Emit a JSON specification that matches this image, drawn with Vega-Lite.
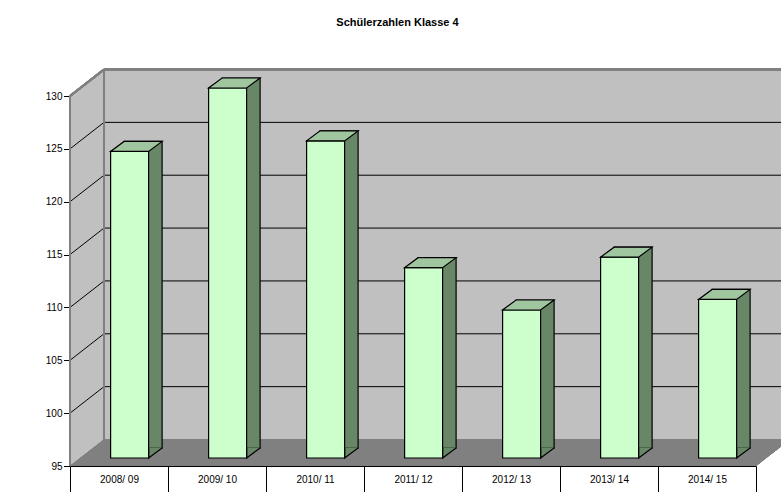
{
  "$schema": "https://vega.github.io/schema/vega-lite/v6.json",
  "width": 711,
  "height": 396,
  "autosize": {"type": "none"},
  "padding": {"left": 70, "top": 70, "right": 0, "bottom": 26},
  "background": "white",
  "title": {"text": "Schülerzahlen Klasse 4", "anchor": "middle", "frame": "group", "offset": 32, "dx": -28, "baseline": "alphabetic", "font": "Liberation Sans", "fontSize": 11, "fontWeight": "bold", "color": "black"},
  "config": {
    "view": {"stroke": null},
    "axis": {"grid": false, "title": null},
    "axisX": {"domain": true, "domainColor": "black", "domainWidth": 1, "ticks": true, "tickBand": "extent", "tickSize": 26, "tickColor": "black", "tickWidth": 1, "labelFontSize": 10, "labelFont": "Liberation Sans", "labelColor": "black", "labelBaseline": "middle", "labelPadding": -13, "labelAngle": 0, "zindex": 1},
    "axisY": {"domain": false, "ticks": true, "tickSize": 6.5, "tickColor": "black", "tickWidth": 1, "labelPadding": 1.5, "labelFontSize": 10, "labelFont": "Liberation Sans", "labelColor": "black", "zindex": 1}
  },
  "datasets": {
    "bars": [
      {"Schuljahr": "2008/ 09", "Schueler": 124},
      {"Schuljahr": "2009/ 10", "Schueler": 130},
      {"Schuljahr": "2010/ 11", "Schueler": 125},
      {"Schuljahr": "2011/ 12", "Schueler": 113},
      {"Schuljahr": "2012/ 13", "Schueler": 109},
      {"Schuljahr": "2013/ 14", "Schueler": 114},
      {"Schuljahr": "2014/ 15", "Schueler": 110}
    ],
    "grid": [{"g": 100}, {"g": 105}, {"g": 110}, {"g": 115}, {"g": 120}, {"g": 125}]
  },
  "data": {"name": "bars"},
  "encoding": {
    "x": {"field": "Schuljahr", "type": "nominal", "title": null, "sort": null,
      "scale": {"type": "band", "domain": ["2008/ 09", "2009/ 10", "2010/ 11", "2011/ 12", "2012/ 13", "2013/ 14", "2014/ 15"], "range": [0, 686], "paddingInner": 0, "paddingOuter": 0}},
    "y": {"field": "Schueler", "type": "quantitative", "title": null,
      "scale": {"domain": [95, 132.46], "nice": false, "zero": false},
      "axis": {"values": [95, 100, 105, 110, 115, 120, 125, 130]}}
  },
  "layer": [
    {
      "mark": {"type": "rect", "fill": "#c0c0c0", "xOffset": 34, "x2Offset": 34, "yOffset": -26.5, "y2Offset": -26.5},
      "encoding": {
        "x": {"datum": "2008/ 09", "type": "nominal", "bandPosition": 0},
        "x2": {"datum": "2014/ 15", "bandPosition": 1},
        "y": {"datum": 95, "type": "quantitative"},
        "y2": {"datum": 130}
      }
    },
    {
      "mark": {"type": "point", "shape": "M0 0 L0 -370 L34 -396.5 L34 -26.5 Z", "size": 4, "filled": true, "fill": "#c0c0c0", "strokeWidth": 0, "opacity": 1},
      "encoding": {
        "x": {"datum": "2008/ 09", "type": "nominal", "bandPosition": 0},
        "y": {"datum": 95, "type": "quantitative"}
      }
    },
    {
      "mark": {"type": "point", "shape": "M0 0 L686 0 L720 -26.5 L34 -26.5 Z", "size": 4, "filled": true, "fill": "#808080", "strokeWidth": 0, "opacity": 1},
      "encoding": {
        "x": {"datum": "2008/ 09", "type": "nominal", "bandPosition": 0},
        "y": {"datum": 95, "type": "quantitative"}
      }
    },
    {
      "data": {"name": "grid"},
      "mark": {"type": "rule", "color": "black", "strokeWidth": 1, "xOffset": 34, "x2Offset": 34, "yOffset": -26.5},
      "encoding": {
        "x": {"datum": "2008/ 09", "type": "nominal", "bandPosition": 0},
        "x2": {"datum": "2014/ 15", "bandPosition": 1},
        "y": {"field": "g", "type": "quantitative", "title": null}
      }
    },
    {
      "data": {"name": "grid"},
      "mark": {"type": "rule", "color": "black", "strokeWidth": 1, "x2Offset": 34, "y2Offset": -26.5},
      "encoding": {
        "x": {"datum": "2008/ 09", "type": "nominal", "bandPosition": 0},
        "x2": {"datum": "2008/ 09", "bandPosition": 0},
        "y": {"field": "g", "type": "quantitative", "title": null},
        "y2": {"field": "g"}
      }
    },
    {
      "mark": {"type": "rule", "color": "#808080", "strokeWidth": 2, "xOffset": 34, "x2Offset": 34, "yOffset": -26.5},
      "encoding": {
        "x": {"datum": "2008/ 09", "type": "nominal", "bandPosition": 0},
        "x2": {"datum": "2014/ 15", "bandPosition": 1},
        "y": {"datum": 130, "type": "quantitative"}
      }
    },
    {
      "mark": {"type": "rule", "color": "#808080", "strokeWidth": 2, "x2Offset": 34, "y2Offset": -26.5},
      "encoding": {
        "x": {"datum": "2008/ 09", "type": "nominal", "bandPosition": 0},
        "x2": {"datum": "2008/ 09", "bandPosition": 0},
        "y": {"datum": 130, "type": "quantitative"},
        "y2": {"datum": 130}
      }
    },
    {
      "mark": {"type": "rule", "color": "#808080", "strokeWidth": 2, "xOffset": 34, "yOffset": -26.5, "y2Offset": -26.5},
      "encoding": {
        "x": {"datum": "2008/ 09", "type": "nominal", "bandPosition": 0},
        "y": {"datum": 95, "type": "quantitative"},
        "y2": {"datum": 130}
      }
    },
    {
      "mark": {"type": "rule", "color": "#808080", "strokeWidth": 1.5},
      "encoding": {
        "x": {"datum": "2008/ 09", "type": "nominal", "bandPosition": 0},
        "y": {"datum": 95, "type": "quantitative"},
        "y2": {"datum": 130}
      }
    },
    {
      "mark": {"type": "bar", "fill": "#678767", "stroke": "black", "strokeWidth": 1.2, "width": 38, "xOffset": 24.1, "yOffset": -18, "y2Offset": -18},
      "encoding": {"y2": {"datum": 95}}
    },
    {
      "mark": {"type": "point", "shape": "M29.6 -18.6 L29.6 -8 L43.1 -18 L43.1 -18.6", "size": 4, "filled": true, "fill": "#678767", "stroke": "black", "strokeWidth": 1.2, "opacity": 1},
      "encoding": {"y": {"datum": 95, "type": "quantitative"}}
    },
    {
      "mark": {"type": "bar", "fill": "#ccffcc", "stroke": "black", "strokeWidth": 1.2, "width": 38, "xOffset": 10.6, "yOffset": -8, "y2Offset": -8},
      "encoding": {"y2": {"datum": 95}}
    },
    {
      "mark": {"type": "point", "shape": "M-8.4 -8 L29.6 -8 L43.1 -18 L5.1 -18 Z", "size": 4, "filled": true, "fill": "#9fc69f", "stroke": "black", "strokeWidth": 1.2, "opacity": 1}
    }
  ]
}
